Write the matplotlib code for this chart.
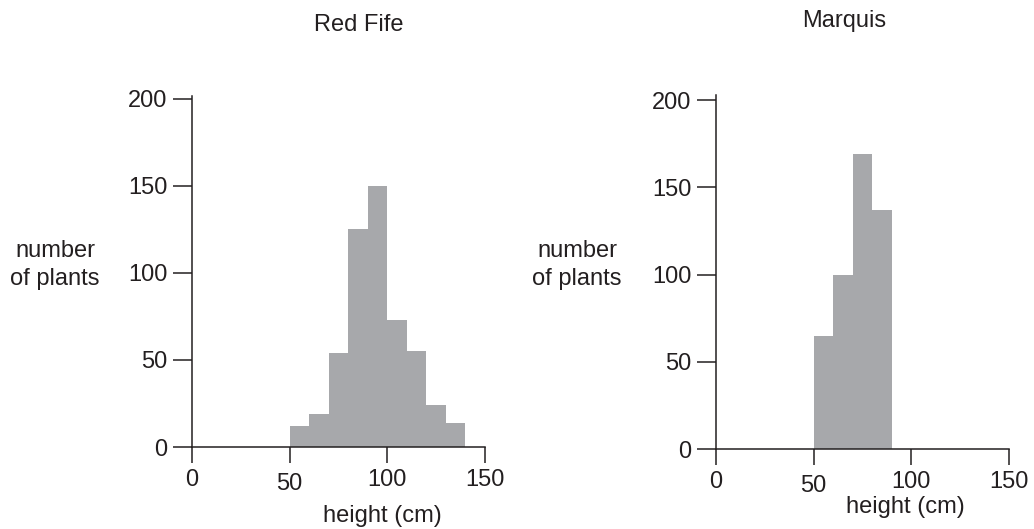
import matplotlib
matplotlib.use("Agg")
from matplotlib import pyplot as plt
from matplotlib import transforms as mtransforms

plt.rcParams['font.family'] = ['Liberation Sans', 'DejaVu Sans']

# data
bin_width = 10
red_fife_bins = [50, 60, 70, 80, 90, 100, 110, 120, 130]
red_fife_counts = [12, 19, 54, 125, 150, 73, 55, 24, 14]
marquis_bins = [50, 60, 70, 80]
marquis_counts = [65, 100, 169, 137]

x_ticks = [0, 50, 100, 150]
y_ticks = [0, 50, 100, 150, 200]

_BAR_COLOR = '#a7a8ab'
_INK = '#231f20'
_FONT_SIZE = 17

W, H = 1034, 529


def fx(px):
    return px / W


def fy(py):
    return 1 - py / H


def style_axis(ax, y_top):
    for side in ('top', 'right'):
        ax.spines[side].set_visible(False)
    for side in ('left', 'bottom'):
        ax.spines[side].set_color(_INK)
        ax.spines[side].set_linewidth(1.1)
    ax.set_xlim(0, 150)
    ax.set_ylim(0, y_top)
    ax.set_xticks(x_ticks)
    ax.set_yticks(y_ticks)
    ax.tick_params(axis='y', direction='out', length=13.5, width=1.1, color=_INK,
                   labelsize=_FONT_SIZE, labelcolor=_INK, pad=4)
    ax.tick_params(axis='x', direction='out', length=11.5, width=1.1, color=_INK,
                   labelsize=_FONT_SIZE, labelcolor=_INK, pad=4)
    # the "50" label sits a little lower in the original drawing
    fig = ax.figure
    lbl = ax.get_xticklabels()[1]
    lbl.set_transform(lbl.get_transform() + mtransforms.ScaledTranslation(0, -4 / 100, fig.dpi_scale_trans))


fig = plt.figure(figsize=(W / 100, H / 100), dpi=100)

# left panel: Red Fife
ax_rf = fig.add_axes([fx(192), fy(447), fx(484.5) - fx(192), fy(95.5) - fy(447)])
ax_rf.bar(red_fife_bins, red_fife_counts, width=bin_width, align='edge', color=_BAR_COLOR, linewidth=0)
style_axis(ax_rf, 202.0)

# right panel: Marquis
ax_mq = fig.add_axes([fx(716), fy(449), fx(1008.5) - fx(716), fy(95) - fy(449)])
ax_mq.bar(marquis_bins, marquis_counts, width=bin_width, align='edge', color=_BAR_COLOR, linewidth=0)
style_axis(ax_mq, 202.9)

# titles
fig.text(fx(358.5), fy(31), 'Red Fife', ha='center', va='baseline', fontsize=_FONT_SIZE, color=_INK)
fig.text(fx(844.5), fy(27), 'Marquis', ha='center', va='baseline', fontsize=_FONT_SIZE, color=_INK)

# y labels
fig.text(fx(55), fy(265), 'number\nof plants', ha='center', va='center', fontsize=_FONT_SIZE,
         color=_INK, linespacing=1.4)
fig.text(fx(577), fy(265), 'number\nof plants', ha='center', va='center', fontsize=_FONT_SIZE,
         color=_INK, linespacing=1.4)

# x labels
fig.text(fx(382), fy(522), 'height (cm)', ha='center', va='baseline', fontsize=_FONT_SIZE, color=_INK)
fig.text(fx(905), fy(513), 'height (cm)', ha='center', va='baseline', fontsize=_FONT_SIZE, color=_INK)

plt.savefig('out.png', dpi=100)
plt.close('all')
